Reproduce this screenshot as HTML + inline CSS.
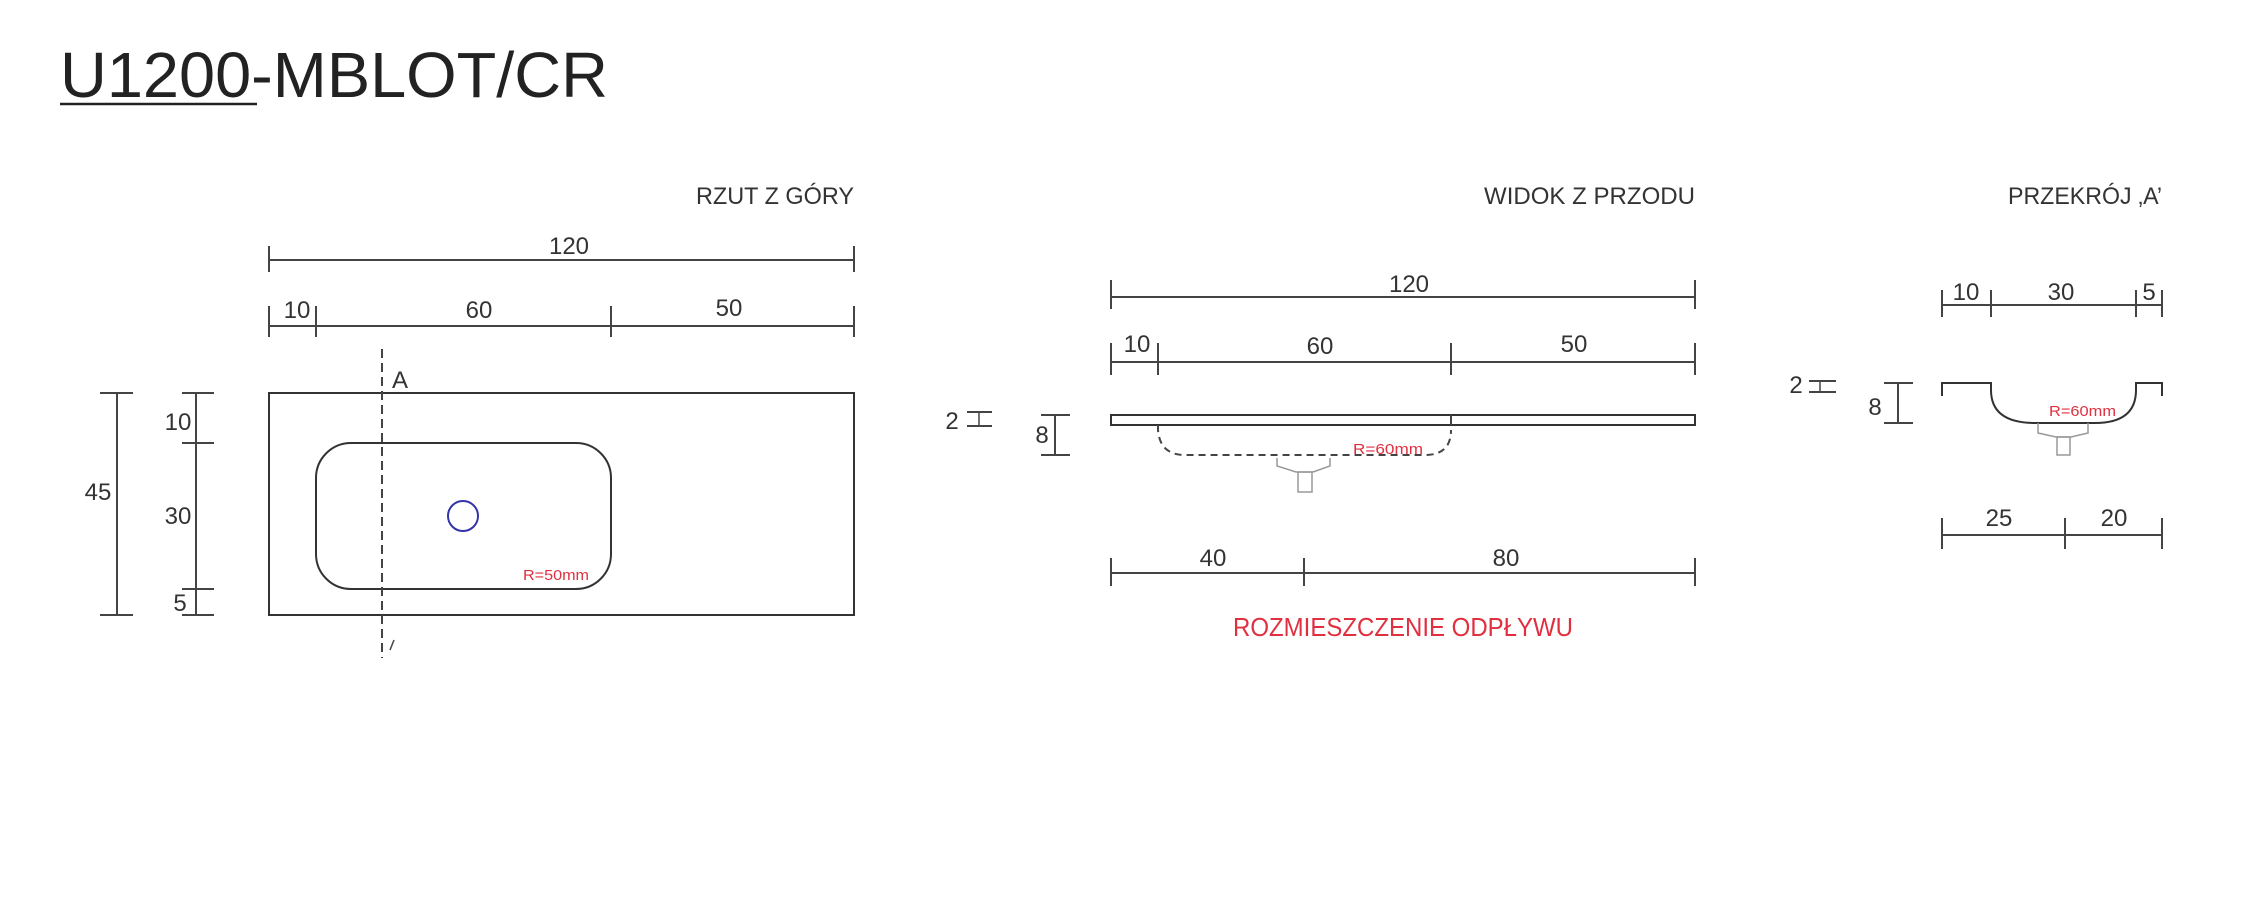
<!DOCTYPE html>
<html><head><meta charset="utf-8"><style>html,body{margin:0;padding:0;background:#fff}svg{display:block}</style></head>
<body>
<svg width="2242" height="919" viewBox="0 0 2242 919" xmlns="http://www.w3.org/2000/svg" font-family="Liberation Sans, sans-serif" fill="#222">
<rect width="2242" height="919" fill="#fff"/>
<text x="60" y="97" font-size="64" textLength="548" lengthAdjust="spacingAndGlyphs">U1200-MBLOT/CR</text>
<line x1="60" y1="104" x2="257" y2="104" stroke="#222" stroke-width="2.5"/>
<g font-size="24" fill="#333">
<text x="696" y="204" textLength="158" lengthAdjust="spacingAndGlyphs">RZUT Z GÓRY</text>
<text x="1484" y="204" textLength="211" lengthAdjust="spacingAndGlyphs">WIDOK Z PRZODU</text>
<text x="2008" y="204" textLength="154" lengthAdjust="spacingAndGlyphs">PRZEKRÓJ ‚A’</text>
</g>
<g stroke="#444" stroke-width="2" fill="none">
<!-- top view dims -->
<line x1="269" y1="260" x2="854" y2="260"/><line x1="269" y1="246" x2="269" y2="272"/><line x1="854" y1="246" x2="854" y2="272"/>
<line x1="269" y1="326" x2="854" y2="326"/>
<line x1="269" y1="306" x2="269" y2="337"/><line x1="316" y1="306" x2="316" y2="337"/><line x1="611" y1="306" x2="611" y2="337"/><line x1="854" y1="306" x2="854" y2="337"/>
<rect x="269" y="393" width="585" height="222" stroke="#333"/>
<rect x="316" y="443" width="295" height="146" rx="35" ry="35" stroke="#333"/>
<ellipse cx="463" cy="516" rx="15" ry="15" stroke="#33a"/>
<line x1="382" y1="349" x2="382" y2="658" stroke-dasharray="9,5"/>
<line x1="394" y1="640" x2="390" y2="650" stroke-width="1.5"/>
<line x1="117" y1="393" x2="117" y2="615"/><line x1="100" y1="393" x2="133" y2="393"/><line x1="100" y1="615" x2="133" y2="615"/>
<line x1="196" y1="393" x2="196" y2="615"/>
<line x1="182" y1="393" x2="214" y2="393"/><line x1="182" y1="443" x2="214" y2="443"/><line x1="182" y1="589" x2="214" y2="589"/><line x1="182" y1="615" x2="214" y2="615"/>
<!-- front view -->
<line x1="1111" y1="297" x2="1695" y2="297"/><line x1="1111" y1="280" x2="1111" y2="309"/><line x1="1695" y1="280" x2="1695" y2="309"/>
<line x1="1111" y1="362" x2="1695" y2="362"/>
<line x1="1111" y1="343" x2="1111" y2="375"/><line x1="1158" y1="343" x2="1158" y2="375"/><line x1="1451" y1="343" x2="1451" y2="375"/><line x1="1695" y1="343" x2="1695" y2="375"/>
<rect x="1111" y="415" width="584" height="10" stroke="#333"/>
<line x1="1451" y1="415" x2="1451" y2="425"/>
<path d="M1158 425 L1158 430 Q1160 455 1185 455 L1425 455 Q1451 455 1451 430" stroke-dasharray="7,5"/>
<path d="M1277 458 L1277 466 L1296 472 L1313 472 L1330 466 L1330 458" stroke="#999" stroke-width="1.5"/>
<rect x="1298" y="472" width="14" height="20" stroke="#999" stroke-width="1.5"/>
<line x1="967" y1="412" x2="992" y2="412"/><line x1="967" y1="426" x2="992" y2="426"/><line x1="979" y1="412" x2="979" y2="426" stroke-width="1.5"/>
<line x1="1055" y1="415" x2="1055" y2="455"/><line x1="1041" y1="415" x2="1070" y2="415"/><line x1="1041" y1="455" x2="1070" y2="455"/>
<line x1="1111" y1="573" x2="1695" y2="573"/>
<line x1="1111" y1="558" x2="1111" y2="586"/><line x1="1304" y1="558" x2="1304" y2="586"/><line x1="1695" y1="558" x2="1695" y2="586"/>
<!-- section -->
<line x1="1942" y1="305" x2="2162" y2="305"/>
<line x1="1942" y1="290" x2="1942" y2="317"/><line x1="1991" y1="290" x2="1991" y2="317"/><line x1="2136" y1="290" x2="2136" y2="317"/><line x1="2162" y1="290" x2="2162" y2="317"/>
<path d="M1942 396 L1942 383 L1991 383 L1991 390 Q1991 423 2035 423 L2095 423 Q2136 423 2136 390 L2136 383 L2162 383 L2162 396" stroke="#333"/>
<path d="M2038 423 L2038 433 L2056 437 L2071 437 L2088 433 L2088 423" stroke="#999" stroke-width="1.5"/>
<rect x="2057" y="437" width="13" height="18" stroke="#999" stroke-width="1.5"/>
<line x1="1809" y1="381" x2="1836" y2="381"/><line x1="1809" y1="392" x2="1836" y2="392"/><line x1="1820" y1="381" x2="1820" y2="392" stroke-width="1.5"/>
<line x1="1898" y1="383" x2="1898" y2="423"/><line x1="1884" y1="383" x2="1913" y2="383"/><line x1="1884" y1="423" x2="1913" y2="423"/>
<line x1="1942" y1="535" x2="2162" y2="535"/>
<line x1="1942" y1="518" x2="1942" y2="549"/><line x1="2065" y1="518" x2="2065" y2="549"/><line x1="2162" y1="518" x2="2162" y2="549"/>
</g>
<g font-size="24" fill="#333" text-anchor="middle">
<text x="569" y="254">120</text>
<text x="297" y="318">10</text><text x="479" y="318">60</text><text x="729" y="316">50</text>
<text x="98" y="500">45</text>
<text x="178" y="430">10</text><text x="178" y="524">30</text><text x="180" y="611">5</text>
<text x="400" y="388">A</text>
<text x="1409" y="292">120</text>
<text x="1137" y="352">10</text><text x="1320" y="354">60</text><text x="1574" y="352">50</text>
<text x="952" y="429">2</text><text x="1042" y="443">8</text>
<text x="1213" y="566">40</text><text x="1506" y="566">80</text>
<text x="1966" y="300">10</text><text x="2061" y="300">30</text><text x="2149" y="300">5</text>
<text x="1796" y="393">2</text><text x="1875" y="415">8</text>
<text x="1999" y="526">25</text><text x="2114" y="526">20</text>
</g>
<g fill="#e03040">
<text x="523" y="580" font-size="15" textLength="66" lengthAdjust="spacingAndGlyphs">R=50mm</text>
<text x="1353" y="454" font-size="15" textLength="70" lengthAdjust="spacingAndGlyphs">R=60mm</text>
<text x="2049" y="416" font-size="15" textLength="67" lengthAdjust="spacingAndGlyphs">R=60mm</text>
<text x="1233" y="636" font-size="26" textLength="340" lengthAdjust="spacingAndGlyphs">ROZMIESZCZENIE ODPŁYWU</text>
</g>
</svg>
</body></html>
